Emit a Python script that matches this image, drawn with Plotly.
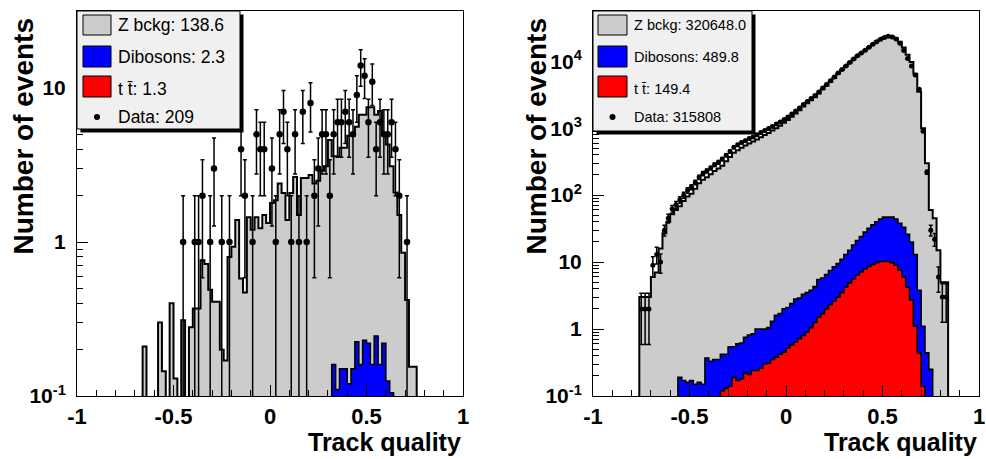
import numpy as np
import plotly.graph_objects as go

# ---------------- binning (100 bins on [-1, 1]) ----------------
bin_edges = np.linspace(-1.0, 1.0, 101)
bin_centers = 0.5 * (bin_edges[:-1] + bin_edges[1:])

# ---------------- LEFT panel (stacked tops) ----------------
left_stack_total = [
    0, 0, 0, 0, 0, 0, 0, 0, 0, 0,
    0, 0, 0, 0, 0, 0, 0, 0.21, 0, 0,
    0, 0.30, 0.145, 0, 0.40, 0.13, 0, 0.31, 0, 0.28,
    0.37, 0.37, 0.76, 0.72, 0.49, 0.41, 0.41, 0.20, 0.17, 0.80,
    0.93, 1.39, 0.58, 0.47, 1.45, 1.20, 1.45, 1.23, 1.50, 1.33,
    1.79, 1.87, 2.40, 2.08, 1.39, 2.08, 2.64, 1.50, 2.60, 2.60,
    2.72, 2.40, 2.50, 2.90, 3.10, 4.60, 3.60, 3.60, 4.10, 4.10,
    4.90, 4.90, 5.60, 6.70, 6.70, 7.50, 7.50, 6.70, 7.10, 5.10,
    4.30, 3.10, 2.10, 1.50, 0.85, 0.42, 0.155, 0.155, 0, 0,
    0, 0, 0, 0, 0, 0, 0, 0, 0, 0,
]
left_stack_diboson_ttbar = [0] * 66 + [
    0.16, 0.11, 0.15, 0.15,
    0.12, 0.15, 0.225, 0.16, 0.23, 0.22, 0.16, 0.245, 0.16, 0.22,
    0.125, 0.105,
] + [0] * 18
left_stack_ttbar = [0] * 66 + [
    0.01, 0.02, 0.02, 0.03,
    0.03, 0.04, 0.04, 0.05, 0.05, 0.06, 0.06, 0.05, 0.05, 0.04,
    0.03, 0.02,
] + [0] * 18
left_data = [
    0, 0, 0, 0, 0, 0, 0, 0, 0, 0,
    0, 0, 0, 0, 0, 0, 0, 0, 0, 0,
    0, 0, 0, 0, 0, 0, 0, 1, 0, 0,
    1, 1, 2, 0, 1, 3, 0, 1, 0, 1,
    0, 0, 4, 2, 0, 1, 5, 4, 4, 0,
    3, 1, 5, 7, 4, 1, 5, 1, 7, 1,
    8, 2, 3, 5, 5, 2, 5, 6, 6, 7,
    6, 5, 9, 14, 12, 6, 11, 4, 6, 5,
    5, 6, 4, 2, 0, 1, 0, 0, 0, 0,
    0, 0, 0, 0, 0, 0, 0, 0, 0, 0,
]
left_legend = ["Z bckg: 138.6", "Dibosons: 2.3", "t t\u0304: 1.3", "Data: 209"]

# ---------------- RIGHT panel (stacked tops) ----------------
right_stack_total = [
    0, 0, 0, 0, 0, 0, 0, 0, 0, 0,
    0, 0, 3, 3, 3, 6, 7, 16, 27, 40,
    52, 60, 68, 82, 95, 105, 125, 150, 170, 185,
    205, 230, 250, 275, 320, 370, 430, 470, 510, 550,
    590, 630, 680, 730, 790, 850, 920, 1000, 1090, 1200,
    1320, 1480, 1650, 1860, 2100, 2350, 2620, 2900, 3300, 3800,
    4300, 4900, 5600, 6500, 7400, 8400, 9500, 10700, 12000, 13200,
    14500, 16200, 18000, 19800, 21500, 23000, 24000, 23500, 22000, 19500,
    16000, 12500, 9700, 6500, 3500, 1000, 300, 60, 45, 15,
    5, 5, 0, 0, 0, 0, 0, 0, 0, 0,
]
right_stack_diboson_ttbar = [
    0, 0, 0, 0, 0, 0, 0, 0, 0, 0,
    0, 0, 0, 0, 0, 0, 0, 0, 0, 0,
    0, 0, 0.19, 0.17, 0.16, 0.17, 0.15, 0.16, 0.15, 0.37,
    0.33, 0.35, 0.35, 0.42, 0.42, 0.54, 0.55, 0.60, 0.62, 0.75,
    0.81, 0.85, 1.0, 0.98, 1.0, 1.05, 1.3, 1.6, 1.7, 2.0,
    2.1, 2.4, 2.8, 2.9, 3.3, 3.5, 3.8, 4.3, 5.5, 5.8,
    6.5, 7.5, 8.5, 9.5, 11, 13, 15, 18, 21, 24,
    28, 32, 36, 40, 44, 47, 48, 47, 44, 38,
    33, 26, 20, 13, 3.8, 1.1, 0.44, 0.25, 0, 0,
    0, 0, 0, 0, 0, 0, 0, 0, 0, 0,
]
right_stack_ttbar = [
    0, 0, 0, 0, 0, 0, 0, 0, 0, 0,
    0, 0, 0, 0, 0, 0, 0, 0, 0, 0,
    0, 0, 0, 0, 0, 0, 0, 0, 0, 0,
    0, 0, 0, 0.12, 0.13, 0.14, 0.19, 0.17, 0.18, 0.22,
    0.21, 0.24, 0.24, 0.26, 0.30, 0.31, 0.35, 0.38, 0.42, 0.45,
    0.52, 0.58, 0.64, 0.72, 0.80, 0.90, 1.05, 1.25, 1.5, 1.7,
    2.0, 2.3, 2.6, 3.0, 3.5, 4.2, 4.9, 5.6, 6.4, 7.1,
    7.9, 8.6, 9.2, 9.8, 10.3, 10.4, 10.2, 9.8, 9.0, 7.6,
    6.0, 4.2, 2.7, 1.1, 0.44, 0.14, 0, 0, 0, 0,
    0, 0, 0, 0, 0, 0, 0, 0, 0, 0,
]
right_data = [
    0, 0, 0, 0, 0, 0, 0, 0, 0, 0,
    0, 0, 2, 2, 2, 9, 13, 10, 30, 45,
    62, 72, 85, 100, 118, 132, 155, 185, 210, 230,
    255, 285, 310, 345, 395, 450, 520, 565, 610, 650,
    700, 740, 800, 860, 920, 990, 1060, 1150, 1240, 1350,
    1470, 1630, 1800, 2000, 2250, 2500, 2780, 3080, 3480, 3980,
    4480, 5100, 5800, 6650, 7550, 8500, 9600, 10800, 12100, 13300,
    14600, 16200, 17900, 19600, 21300, 22700, 23600, 23000, 21500, 18500,
    14500, 11000, 8500, 6200, 3800, 900, 220, 30, 22, 6,
    3, 3, 0, 0, 0, 0, 0, 0, 0, 0,
]
right_legend = ["Z bckg: 320648.0", "Dibosons: 489.8", "t t\u0304: 149.4", "Data: 315808"]

x_tick_vals = [-1, -0.5, 0, 0.5, 1]
x_tick_text = ["-1", "-0.5", "0", "0.5", "1"]
left_y_ticks = [0.1, 1, 10]
left_y_text = ["10<sup>-1</sup>", "1", "10"]
right_y_ticks = [0.1, 1, 10, 100, 1000, 10000]
right_y_text = ["10<sup>-1</sup>", "1", "10", "10<sup>2</sup>", "10<sup>3</sup>", "10<sup>4</sup>"]

# ---------------- styling ----------------
W, H = 986, 459
FONT = "Liberation Sans, Arial, Helvetica, sans-serif"
GRAY, BLUE, RED = "#cccccc", "#0000ff", "#ff0000"
FLOOR = 1e-4


def step_polygon(values):
    xs, ys = [bin_edges[0]], [FLOOR]
    for i, v in enumerate(values):
        v = v if v > 0 else FLOOR
        xs += [bin_edges[i], bin_edges[i + 1]]
        ys += [v, v]
    xs.append(bin_edges[-1])
    ys.append(FLOOR)
    return xs, ys


fig = go.Figure()


def add_panel(xa, ya, total, dibtt, tt, data, lw_main, msize):
    for vals, col, lw in [(total, GRAY, lw_main), (dibtt, BLUE, 1.6), (tt, RED, 1.6)]:
        xs, ys = step_polygon(vals)
        fig.add_trace(go.Scatter(x=xs, y=ys, xaxis=xa, yaxis=ya, mode="lines",
                                 fill="toself", fillcolor=col,
                                 line=dict(color="black", width=lw),
                                 hoverinfo="skip", showlegend=False))
    d = np.array(data, dtype=float)
    m = d > 0
    fig.add_trace(go.Scatter(x=bin_centers[m], y=d[m], xaxis=xa, yaxis=ya, mode="markers",
                             marker=dict(color="black", size=msize),
                             error_y=dict(type="data", array=np.sqrt(d[m]), visible=True,
                                          color="black", thickness=1.5, width=2),
                             showlegend=False))


add_panel("x", "y", left_stack_total, left_stack_diboson_ttbar, left_stack_ttbar, left_data, 2, 6.5)
add_panel("x2", "y2", right_stack_total, right_stack_diboson_ttbar, right_stack_ttbar, right_data, 2, 5)


def px(x):
    return x / W


def py(y):
    return 1 - y / H


x_minor = [v for v in np.round(np.arange(-0.9, 1.0, 0.1), 2) if abs(v * 2 - round(v * 2)) > 1e-6]


def log_minor(lo, hi):
    out = []
    for d in range(lo, hi + 1):
        for k in range(2, 10):
            out.append(k * 10.0 ** d)
    return out


common_x = dict(range=[-1, 1], tickmode="array", tickvals=x_tick_vals, ticktext=x_tick_text,
                ticks="inside", ticklen=11, tickwidth=1, tickcolor="black",
                minor=dict(tickmode="array", tickvals=x_minor, ticks="inside", ticklen=6,
                           tickwidth=1, tickcolor="black", showgrid=False),
                showline=True, linecolor="black", linewidth=1, mirror=True,
                showgrid=False, zeroline=False, automargin=False,
                tickfont=dict(family=FONT, size=22, color="black", weight="bold"),
                ticklabelstandoff=1)
common_y = dict(type="log", tickmode="array", ticks="inside", ticklen=11, tickwidth=1,
                tickcolor="black", showline=True, linecolor="black", linewidth=1,
                mirror=True, showgrid=False, zeroline=False, automargin=False,
                tickfont=dict(family=FONT, size=21, color="black", weight="bold"),
                ticklabelstandoff=6)

ydom = [py(396), py(11)]
fig.update_layout(
    width=W, height=H, margin=dict(l=0, r=0, t=0, b=0),
    paper_bgcolor="white", plot_bgcolor="white", showlegend=False,
    xaxis=dict(domain=[px(77), px(463)], anchor="y", **common_x),
    xaxis2=dict(domain=[px(593), px(979)], anchor="y2", **common_x),
    yaxis=dict(domain=ydom, anchor="x", range=[-1, 1.5], tickvals=left_y_ticks,
               ticktext=left_y_text,
               minor=dict(tickmode="array", tickvals=log_minor(-1, 1), ticks="inside",
                          ticklen=6, tickwidth=1, tickcolor="black", showgrid=False),
               **common_y),
    yaxis2=dict(domain=ydom, anchor="x2", range=[-1, 4.75], tickvals=right_y_ticks,
                ticktext=right_y_text,
                minor=dict(tickmode="array", tickvals=log_minor(-1, 4), ticks="inside",
                           ticklen=6, tickwidth=1, tickcolor="black", showgrid=False),
                **common_y),
)

shapes = []
annotations = []


def rect(x0, y0, x1, y1, fill, lw=1):
    shapes.append(dict(type="rect", xref="paper", yref="paper",
                       x0=px(x0), x1=px(x1), y0=py(y1), y1=py(y0),
                       fillcolor=fill, line=dict(color="black", width=lw), layer="above"))


def legend(x0, y0, x1, y1, sw_x0, sw_x1, text_x, text_ys, labels, fsize):
    rect(x0 + 3.5, y0 + 3.5, x1 + 3.5, y1 + 3.5, "black", 0)
    rect(x0, y0, x1, y1, "#f0f0f0", 1)
    for (sy0, sy1), col in zip([(15, 35), (46, 67), (76, 97)], [GRAY, BLUE, RED]):
        rect(sw_x0, sy0, sw_x1, sy1, col, 1)
    cx = 0.5 * (sw_x0 + sw_x1)
    shapes.append(dict(type="circle", xref="paper", yref="paper",
                       x0=px(cx - 3), x1=px(cx + 3), y0=py(120), y1=py(114),
                       fillcolor="black", line=dict(color="black", width=0), layer="above"))
    for lab, ty in zip(labels, text_ys):
        annotations.append(dict(text=lab, xref="paper", yref="paper", x=px(text_x), y=py(ty),
                                xanchor="left", yanchor="middle", showarrow=False,
                                font=dict(family=FONT, size=fsize, color="black")))


legend(77, 11, 240, 129, 83, 111, 116, [25, 57, 89, 117], left_legend, 17.5)
legend(593, 11, 752, 131, 598, 627, 632, [25, 57, 89, 117], right_legend, 14.5)

for xr, xt in [(463, "Track quality"), (979, "Track quality")]:
    annotations.append(dict(text=xt, xref="paper", yref="paper", x=px(xr), y=py(442),
                            xanchor="right", yanchor="middle", showarrow=False,
                            font=dict(family=FONT, size=25, color="black", weight="bold")))
for xc in [23, 536]:
    annotations.append(dict(text="Number of events", xref="paper", yref="paper", x=px(xc),
                            y=py(16), xanchor="center", yanchor="top", textangle=-90,
                            showarrow=False,
                            font=dict(family=FONT, size=28, color="black", weight="bold")))

fig.update_layout(shapes=shapes, annotations=annotations)
fig.write_html("out.html", config={"displayModeBar": False},
               post_script="document.body.style.margin='0';document.body.style.padding='0';")
